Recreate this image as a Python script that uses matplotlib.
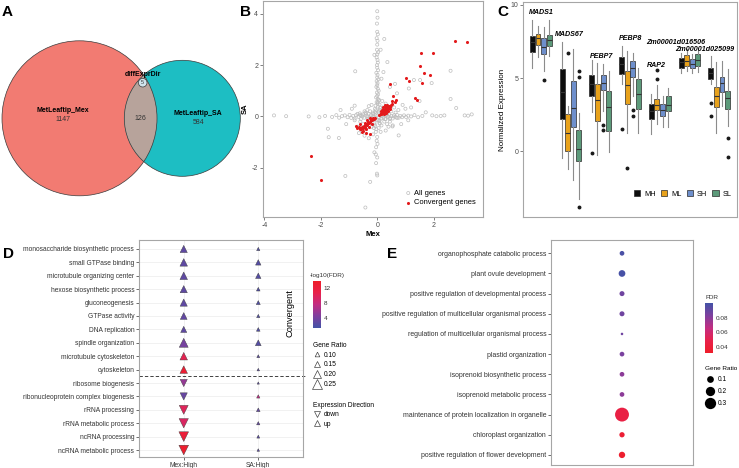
import matplotlib
matplotlib.use("Agg")
import matplotlib.pyplot as plt
import numpy as np
from matplotlib.patches import Circle, Patch
from matplotlib.lines import Line2D
from matplotlib.colors import LinearSegmentedColormap, Normalize
from matplotlib.cm import ScalarMappable

W, H = 739, 468
plt.rcParams["font.family"] = ["Liberation Sans", "DejaVu Sans"]
plt.rcParams["axes.unicode_minus"] = False

FRAME = "#A6A6A6"
TXT = "#333333"
TICK = "#4D4D4D"

# ---------------- data ----------------
# A: venn counts
VENN_MEX_ONLY = 1147
VENN_SHARED = 126
VENN_SA_ONLY = 584
VENN_DIFFDIR = 5

# B: scatter (Mex vs SA), all genes
GRAY_X = [0.00, 0.01, -0.01, 0.00, 0.02, -0.02, 0.01, 0.00, -0.01, 0.03, 0.00, -0.02, 0.01, 0.02,
          -0.01, 0.00, 0.03, -0.03, 0.01, 0.00, 0.04, -0.02, 0.01, 0.00, -0.03, 0.02, 0.05, -0.01,
          0.03, 0.00, -0.04, 0.02, 0.06, -0.02, 0.01, 0.08, -0.06, 0.03, 0.10, -0.08,
          0.25, 0.36, 0.22, 0.15, 0.12, -0.10, -0.78,
          0.00, -0.02, 0.01, -0.04, -0.10, -0.05, 0.00, -0.04, -0.01, 0.00, -0.25, -0.42, -1.13,
          -3.66, -3.23, -2.43, -2.05, -1.85, -1.60, -1.45, -1.35, -1.25, -1.15, -1.05, -0.98, -0.92,
          -0.85, -0.80, -0.75, -0.70, -0.66, -0.62, -0.58, -0.55, -0.50, -0.46, -0.42, -0.38, -0.34,
          -0.30, -0.26, -0.22, -0.18, -0.14, -0.10, -0.06,
          0.06, 0.10, 0.14, 0.18, 0.22, 0.26, 0.30, 0.34, 0.38, 0.42, 0.46, 0.50, 0.55, 0.60, 0.65,
          0.70, 0.76, 0.82, 0.88, 0.95, 1.02, 1.10, 1.20, 1.32, 1.45, 1.60, 1.72, 1.95, 2.10, 2.25,
          2.38, 3.10, 3.22, 3.35, 2.80, 2.60, 2.60,
          -0.50, -0.40, -0.30, -0.20, -0.60, -0.70, -0.35, -0.25, -0.15, -0.10, 0.00, 0.05, 0.10,
          0.20, 0.30, 0.40, 0.50, 0.60, 0.25, 0.35, 0.15, 0.05, -0.05, -0.15, 0.45, 0.55, 0.65,
          0.75, -0.80, -0.55, -0.45, -0.30, 0.12, 0.30,
          -1.75, -1.72, -1.36, -0.80, 0.54, 0.76, 0.63, 1.12, 1.30, 1.52, 1.93, 0.90, 1.00, 1.20,
          1.50, 0.85, 1.10, -1.10, -1.30, -0.90, 0.70, 0.45,
          -0.20, 0.18, -0.12, 0.08, -0.30, 0.35, 0.28, -0.45, 0.40, -0.65,
          -0.05, 0.04, -0.08, 0.07, -0.15, 0.15, -0.22, 0.24, -0.40, 0.45, -0.60, 0.70,
          0.05, -0.05, 0.09, -0.09, 0.02, -0.03, 0.06, -0.07, -0.52, 0.58, -0.33, 0.38]
GRAY_Y = [4.10, 3.85, 3.62, 3.30, 3.20, 3.05, 2.95, 2.80, 2.60, 2.50, 2.42, 2.30, 2.20, 2.10,
          2.00, 1.90, 1.80, 1.70, 1.62, 1.52, 1.45, 1.38, 1.30, 1.22, 1.15, 1.08, 1.00, 0.93,
          0.86, 0.80, 0.74, 0.68, 0.62, 0.56, 0.50, 0.46, 0.42, 0.38, 0.34, 0.30,
          3.02, 2.12, 1.73, 1.47, 2.60, 2.40, 1.76,
          -0.80, -0.95, -1.07, -1.20, -1.40, -1.48, -1.60, -1.82, -2.23, -2.30, -2.55, -3.55, -2.32,
          0.04, 0.01, 0.00, -0.03, 0.02, -0.02, 0.05, -0.05, 0.01, 0.04, -0.03, 0.06, -0.06,
          0.02, -0.08, 0.05, 0.10, -0.02, 0.12, -0.10, 0.04, 0.08, -0.05, 0.15, 0.02, -0.12,
          0.10, -0.04, 0.06, -0.08, 0.03, -0.02, 0.05,
          -0.04, 0.05, -0.08, 0.02, -0.05, 0.07, -0.10, 0.04, -0.03, 0.08, -0.06, 0.02, -0.08, 0.05, -0.02,
          0.06, -0.05, 0.02, -0.03, 0.04, -0.02, 0.03, 0.00, 0.05, -0.03, 0.02, 0.16, 0.04, 0.01, 0.02,
          0.04, 0.04, 0.03, 0.08, 0.33, 0.68, 1.78,
          -0.30, -0.50, -0.20, -0.40, -0.20, -0.40, 0.25, 0.20, 0.15, -0.25, -0.15, 0.15, 0.25,
          0.35, 0.50, 0.30, 0.20, 0.35, -0.20, -0.30, -0.35, -0.45, -0.60, -0.70, -0.20, -0.35, 0.15,
          0.25, -0.15, -0.55, -0.75, -0.85, -0.60, -0.55,
          -0.48, -0.81, -0.84, 0.42, -0.39, -0.74, 1.27, 1.09, 1.42, 1.42, 1.30, 0.45, 0.30, 0.35,
          0.60, -0.30, -0.15, -0.30, 0.25, 0.30, 0.90, 1.15,
          0.45, 0.60, -0.45, -0.25, 0.40, 0.10, -0.10, 0.20, -0.40, -0.65,
          0.12, -0.14, 0.18, -0.18, 0.10, -0.08, -0.12, 0.09, 0.11, -0.10, 0.05, -0.06,
          0.20, 0.24, -0.28, -0.32, 0.55, -0.50, 0.65, -0.38, 0.00, 0.00, 0.00, 0.00]

# B: convergent genes
RED_X = [0.08, 0.12, 0.15, 0.18, 0.20, 0.22, 0.25, 0.27, 0.30, 0.32, 0.35, 0.37, 0.40, 0.42, 0.45,
         0.48, 0.14, 0.18, 0.22, 0.26, 0.30, 0.34, 0.12, 0.24, 0.30, 0.38, 0.44, 0.52, 0.20, 0.28,
         -0.08, -0.12, -0.15, -0.18, -0.22, -0.25, -0.28, -0.32, -0.35, -0.38, -0.42, -0.45, -0.48,
         -0.52, -0.55, -0.58, -0.62, -0.65, -0.70, -0.75, -0.20, -0.30, -0.40, -0.50, -0.35, -0.25,
         -0.45, -0.60, -0.55, -0.40, -0.27,
         2.76, 3.17, 1.56, 1.99, 1.50, 1.66, 1.88, 1.03, 1.13, 1.59, 0.47, 0.57, 0.54, 0.67, 0.62,
         1.35, 1.42, -2.34, -1.99]
RED_Y = [0.05, 0.10, 0.08, 0.15, 0.12, 0.20, 0.18, 0.25, 0.22, 0.30, 0.28, 0.35, 0.32, 0.40, 0.38,
         0.45, 0.20, 0.25, 0.30, 0.35, 0.40, 0.45, 0.15, 0.10, 0.15, 0.22, 0.28, 0.50, 0.35, 0.45,
         -0.05, -0.10, -0.08, -0.15, -0.12, -0.20, -0.25, -0.22, -0.30, -0.35, -0.32, -0.40, -0.38,
         -0.45, -0.42, -0.50, -0.48, -0.40, -0.45, -0.38, -0.30, -0.40, -0.50, -0.55, -0.15, -0.05,
         -0.25, -0.30, -0.60, -0.65, -0.67,
         2.95, 2.91, 2.47, 2.46, 1.98, 1.68, 1.60, 1.50, 1.37, 1.32, 1.27, 0.79, 0.62, 0.65, 0.55,
         0.73, 0.66, -1.54, -2.46]

# C: boxplot summaries per group (one value per gene)
C_GENES = ["MADS1", "MADS67", "PEBP7", "PEBP8", "RAP2", "Zm00001d016506", "Zm00001d025099"]
C_GROUPS = ["MH", "ML", "SH", "SL"]
C_COLORS = ["#0D0D0D", "#E8A21C", "#6E8FCC", "#5C9A7A"]
MH_LO = [5.67, -0.44, 2.67, 4.60, 1.16, 5.33, 4.57]
MH_Q1 = [6.80, 2.19, 3.76, 5.25, 2.21, 5.67, 4.91]
MH_MED = [7.44, 4.03, 4.56, 5.94, 2.77, 6.07, 5.37]
MH_Q3 = [7.86, 5.60, 5.18, 6.41, 3.23, 6.34, 5.72]
MH_HI = [8.94, 7.49, 6.24, 7.21, 3.88, 6.69, 6.53]
MH_OUT = [[], [], [-0.12], [1.5], [], [], [3.30, 2.42]]
ML_LO = [6.47, -1.20, -0.28, 1.24, 1.87, 5.48, 1.22]
ML_Q1 = [7.26, 0.02, 2.03, 3.25, 2.79, 5.83, 3.00]
ML_MED = [7.72, 1.22, 3.53, 4.55, 3.14, 6.18, 3.76]
ML_Q3 = [8.04, 2.53, 4.61, 5.50, 3.60, 6.57, 4.41]
ML_HI = [8.55, 3.06, 6.06, 6.85, 4.50, 6.98, 6.11]
ML_OUT = [[], [6.68], [], [-1.18], [5.56, 4.91], [], []]
SH_LO = [5.48, -2.00, 2.72, 3.76, 1.68, 5.37, 3.07]
SH_Q1 = [6.64, 1.64, 4.17, 5.10, 2.42, 5.67, 4.03]
SH_MED = [7.14, 2.95, 4.68, 5.67, 2.83, 5.99, 4.68]
SH_Q3 = [7.72, 4.79, 5.18, 6.18, 3.23, 6.30, 5.10]
SH_HI = [8.48, 7.00, 5.94, 6.71, 3.76, 6.65, 6.18]
SH_OUT = [[4.84], [], [1.80, 1.45], [2.84, 2.42], [], [], []]
SL_LO = [6.52, -3.30, -0.05, 1.25, 1.64, 5.44, 1.72]
SL_Q1 = [7.21, -0.67, 1.41, 2.89, 2.76, 5.83, 2.87]
SL_MED = [7.63, 0.18, 3.02, 3.88, 3.18, 6.25, 3.64]
SL_Q3 = [7.95, 1.45, 4.10, 4.96, 3.76, 6.65, 4.10]
SL_HI = [8.94, 2.60, 5.48, 5.72, 4.33, 7.03, 5.65]
SL_OUT = [[], [5.48, 5.09, -3.85], [], [], [], [], [0.87, -0.37]]
C_LABEL_X = [1.03, 1.96, 3.05, 4.02, 4.89, 5.53, 6.50]
C_LABEL_Y = [9.47, 7.96, 6.48, 7.68, 5.83, 7.45, 6.94]

# D: GO enrichment (convergent)
D_TERMS = ["monosaccharide biosynthetic process", "small GTPase binding",
           "microtubule organizing center", "hexose biosynthetic process", "gluconeogenesis",
           "GTPase activity", "DNA replication", "spindle organization",
           "microtubule cytoskeleton", "cytoskeleton", "ribosome biogenesis",
           "ribonucleoprotein complex biogenesis", "rRNA processing", "rRNA metabolic process",
           "ncRNA processing", "ncRNA metabolic process"]
D_GROUPS = ["Mex:High", "SA:High"]
D_MEX_RATIO = [0.17, 0.18, 0.18, 0.17, 0.17, 0.16, 0.14, 0.22, 0.18, 0.18,
               0.17, 0.17, 0.22, 0.23, 0.24, 0.24]
D_MEX_LOGFDR = [2.8, 2.8, 2.8, 2.8, 2.8, 2.9, 2.8, 4.0, 10.5, 13.0,
                5.5, 3.2, 10.0, 9.5, 12.5, 13.5]
D_MEX_DIR = ["up"] * 10 + ["down"] * 6
D_SA_RATIO = [0.06, 0.12, 0.12, 0.07, 0.08, 0.06, 0.07, 0.13, 0.05, 0.04,
              0.03, 0.06, 0.07, 0.06, 0.05, 0.04]
D_SA_LOGFDR = [2.0, 2.2, 2.2, 2.0, 2.0, 2.0, 2.0, 2.2, 2.5, 2.5,
               2.5, 7.5, 3.0, 3.0, 2.5, 2.5]
D_SA_DIR = ["up"] * 16

# E: GO enrichment
E_TERMS = ["organophosphate catabolic process", "plant ovule development",
           "positive regulation of developmental process",
           "positive regulation of multicellular organismal process",
           "regulation of multicellular organismal process", "plastid organization",
           "isoprenoid biosynthetic process", "isoprenoid metabolic process",
           "maintenance of protein localization in organelle", "chloroplast organization",
           "positive regulation of flower development"]
E_RATIO = [0.043, 0.099, 0.05, 0.05, 0.005, 0.043, 0.043, 0.043, 0.46, 0.057, 0.087]
E_FDR = [0.099, 0.100, 0.088, 0.088, 0.088, 0.085, 0.080, 0.080, 0.045, 0.037, 0.034]

# ---------------- figure ----------------
fig = plt.figure(figsize=(W / 100, H / 100), dpi=100)


def px_axes(x0, y0, x1, y1):
    return fig.add_axes([x0 / W, 1 - y1 / H, (x1 - x0) / W, (y1 - y0) / H])


def frame(ax):
    for s in ax.spines.values():
        s.set_color(FRAME)
        s.set_linewidth(0.8)


cmap = LinearSegmentedColormap.from_list(
    "fdr", ["#4452A6", "#7F3F9E", "#C42C80", "#E8214A", "#EE1D28"])

# ---- A: venn ----
axA = px_axes(0, 0, 245, 240)
axA.set_xlim(0, 245)
axA.set_ylim(240, 0)
axA.axis("off")
red = Circle((79.5, 118.3), 77.5, fc="#F27B72", ec="none")
teal = Circle((182.3, 118.3), 58, fc="#1DBEC3", ec="none")
axA.add_patch(red)
axA.add_patch(teal)
lens = Circle((182.3, 118.3), 58, fc="#B7A39B", ec="none")
axA.add_patch(lens)
lens.set_clip_path(red)
axA.add_patch(Circle((79.5, 118.3), 77.5, fc="none", ec="#3a3a3a", lw=0.5))
axA.add_patch(Circle((182.3, 118.3), 58, fc="none", ec="#3a3a3a", lw=0.5))
axA.add_patch(Circle((142.7, 82.7), 4.3, fc="#CFE4EC", ec="#3a3a3a", lw=0.5))
axA.text(63.3, 111, "MetLeaftip_Mex", fontsize=5, fontweight="bold", ha="center", va="center")
axA.text(63.3, 119.5, str(VENN_MEX_ONLY), fontsize=5, ha="center", va="center", color=TXT)
axA.text(140.7, 118.3, str(VENN_SHARED), fontsize=5, ha="center", va="center", color=TXT)
axA.text(198.3, 113.3, "MetLeaftip_SA", fontsize=5, fontweight="bold", ha="center", va="center")
axA.text(198.3, 122.7, str(VENN_SA_ONLY), fontsize=5, ha="center", va="center", color=TXT)
axA.text(142.7, 74, "diffExprDir", fontsize=5, fontweight="bold", ha="center", va="center")
axA.text(142.7, 83, str(VENN_DIFFDIR), fontsize=4, ha="center", va="center", color=TXT)

# ---- B: scatter ----
axB = px_axes(263, 1, 483, 217)
axB.scatter(GRAY_X, GRAY_Y, s=5, facecolors="none", edgecolors="#BDBDBD",
            linewidths=0.5, label="All genes", zorder=2)
axB.scatter(RED_X, RED_Y, s=5, c="#E31A1C", linewidths=0, label="Convergent genes", zorder=3)
axB.set_xlim(-4.05, 3.75)
axB.set_ylim(-3.92, 4.5)
axB.set_xticks([-4, -2, 0, 2])
axB.set_yticks([-2, 0, 2, 4])
axB.tick_params(length=2, width=0.5, color=TICK, labelsize=5, labelcolor=TICK, pad=1.5)
axB.set_xlabel("Mex", fontsize=5.5, fontweight="bold", labelpad=1.5)
axB.set_ylabel("SA", fontsize=5.5, fontweight="bold", labelpad=2)
frame(axB)
axB.legend(loc="upper left", bbox_to_anchor=(400 / W, 1 - 186 / H), bbox_transform=fig.transFigure,
           frameon=False, fontsize=5.4, handletextpad=0.2, labelspacing=0.3, borderpad=0,
           handlelength=1.2, markerscale=1.0)

# ---- C: boxplots ----
axC = px_axes(523, 2, 737, 217)
group_arrays = [
    (MH_LO, MH_Q1, MH_MED, MH_Q3, MH_HI, MH_OUT),
    (ML_LO, ML_Q1, ML_MED, ML_Q3, ML_HI, ML_OUT),
    (SH_LO, SH_Q1, SH_MED, SH_Q3, SH_HI, SH_OUT),
    (SL_LO, SL_Q1, SL_MED, SL_Q3, SL_HI, SL_OUT),
]
for j, (lo, q1, med, q3, hi, out) in enumerate(group_arrays):
    stats = []
    for i in range(len(C_GENES)):
        stats.append(dict(whislo=lo[i], q1=q1[i], med=med[i], q3=q3[i], whishi=hi[i],
                          fliers=out[i]))
    pos = np.arange(1, len(C_GENES) + 1) + (j - 1.5) * 0.1875
    axC.bxp(stats, positions=pos, widths=0.165, patch_artist=True, showcaps=False,
            boxprops=dict(facecolor=C_COLORS[j], edgecolor="#2a2a2a", linewidth=0.5),
            medianprops=dict(color="#333333", linewidth=0.8),
            whiskerprops=dict(color="#8C8C8C", linewidth=0.8),
            flierprops=dict(marker="o", markersize=1.8, markerfacecolor="#1a1a1a",
                            markeredgecolor="#1a1a1a"))
for name, x, y in zip(C_GENES, C_LABEL_X, C_LABEL_Y):
    axC.text(x, y, name, fontsize=5.1, fontweight="bold", fontstyle="italic",
             ha="center", va="center")
axC.set_xlim(0.4, 7.6)
axC.set_ylim(-4.5, 10.2)
axC.set_xticks([])
axC.set_yticks([0, 5, 10])
axC.tick_params(length=2, width=0.5, color=TICK, labelsize=5, labelcolor=TICK, pad=1.5)
axC.set_ylabel("Normalized Expression", fontsize=5.8, labelpad=3)
frame(axC)
c_handles = [Patch(facecolor=c, edgecolor="#2a2a2a", linewidth=0.5) for c in C_COLORS]
axC.legend(c_handles, C_GROUPS, loc="upper left", bbox_to_anchor=(630 / W, 1 - 186.5 / H),
           bbox_transform=fig.transFigure, ncol=4, frameon=False, fontsize=5.3,
           handlelength=0.9, handleheight=0.8, handletextpad=0.5, columnspacing=0.7,
           borderpad=0)


def tri_size(r):
    px = max(4.7 + (r - 0.10) * 35.3, 2.2)
    return (px * 0.72) ** 2


def dot_size(r):
    return (4.5 + 410 * r) * 0.72 ** 2


# ---- D: triangle dot plot ----
axD = px_axes(139, 240, 303, 457)
normD = Normalize(1.3, 14.1)
rows = np.arange(len(D_TERMS))
for xi, ratios, logf, dirs in [(1, D_MEX_RATIO, D_MEX_LOGFDR, D_MEX_DIR),
                               (2, D_SA_RATIO, D_SA_LOGFDR, D_SA_DIR)]:
    for d, mk in [("up", "^"), ("down", "v")]:
        idx = [k for k in rows if dirs[k] == d]
        if not idx:
            continue
        axD.scatter([xi] * len(idx), idx, marker=mk,
                    s=[tri_size(ratios[k]) for k in idx],
                    c=[cmap(normD(logf[k])) for k in idx],
                    edgecolors="#3a3a3a", linewidths=0.3, zorder=3)
axD.set_xlim(0.4, 2.6)
axD.set_ylim(15.52, -0.67)
axD.set_yticks(rows)
axD.set_yticklabels(D_TERMS)
axD.set_xticks([1, 2])
axD.set_xticklabels(D_GROUPS)
axD.grid(color="#EBEBEB", linewidth=0.5)
axD.set_axisbelow(True)
axD.tick_params(length=2, width=0.5, color=TXT, labelsize=4.75, labelcolor=TXT, pad=1.5)
frame(axD)
axD.axhline(9.5, xmin=0, xmax=1.02, clip_on=False, color="#222222", lw=0.6, ls=(0, (4, 2.5)))
axD.text(0.92, 0.664, "Convergent", transform=axD.transAxes, rotation=90, fontsize=6.7,
         ha="center", va="center")

caxD = px_axes(313, 280.7, 321, 327.7)
cbD = fig.colorbar(ScalarMappable(norm=normD, cmap=cmap), cax=caxD, ticks=[4, 8, 12])
cbD.outline.set_visible(False)
caxD.tick_params(length=0, labelsize=4.6, pad=2, labelcolor=TXT)
caxD.text(-0.35, 1.06, "-log10(FDR)", transform=caxD.transAxes, fontsize=4.6, ha="left",
          va="bottom", color=TXT)

ratio_breaks = [0.10, 0.15, 0.20, 0.25]
gr_handles = [Line2D([], [], ls="none", marker="^", markersize=np.sqrt(tri_size(r)),
                     markerfacecolor="white", markeredgecolor="#444444", markeredgewidth=0.5)
              for r in ratio_breaks]
fig.legend(gr_handles, ["%.2f" % r for r in ratio_breaks], title="Gene Ratio",
           loc="upper left", bbox_to_anchor=(310 / W, 1 - 338.5 / H), frameon=False,
           fontsize=4.8, title_fontsize=4.8, alignment="left", labelspacing=0.42,
           handletextpad=0.3, handlelength=1.2, borderpad=0)
dir_handles = [Line2D([], [], ls="none", marker=m, markersize=np.sqrt(tri_size(0.15)),
                      markerfacecolor="white", markeredgecolor="#444444", markeredgewidth=0.5)
               for m in ["v", "^"]]
fig.legend(dir_handles, ["down", "up"], title="Expression Direction",
           loc="upper left", bbox_to_anchor=(310 / W, 1 - 398.5 / H), frameon=False,
           fontsize=4.8, title_fontsize=4.8, alignment="left", labelspacing=0.35,
           handletextpad=0.3, handlelength=1.2, borderpad=0)

# ---- E: dot plot ----
axE = px_axes(551, 240, 693, 465)
normE = Normalize(0.0307, 0.101)
cmapE = cmap.reversed()
erows = np.arange(len(E_TERMS))
axE.scatter([1] * len(E_TERMS), erows, s=[dot_size(r) for r in E_RATIO],
            c=[cmapE(normE(f)) for f in E_FDR], linewidths=0, zorder=3)
axE.set_xlim(0.4, 1.6)
axE.set_ylim(10.5, -0.66)
axE.set_yticks(erows)
axE.set_yticklabels(E_TERMS)
axE.set_xticks([])
axE.tick_params(length=2, width=0.5, color=TXT, labelsize=4.95, labelcolor=TXT, pad=1.5)
frame(axE)

caxE = px_axes(705, 303.3, 713.3, 353.3)
cbE = fig.colorbar(ScalarMappable(norm=normE, cmap=cmapE), cax=caxE, ticks=[0.04, 0.06, 0.08])
cbE.outline.set_visible(False)
caxE.set_yticklabels(["0.04", "0.06", "0.08"])
caxE.tick_params(length=0, labelsize=4.6, pad=2, labelcolor=TXT)
caxE.text(0, 1.06, "FDR", transform=caxE.transAxes, fontsize=4.6, ha="left", va="bottom",
          color=TXT)

e_breaks = [0.1, 0.2, 0.3]
e_handles = [Line2D([], [], ls="none", marker="o", markersize=np.sqrt(dot_size(r)),
                    markerfacecolor="black", markeredgecolor="black", markeredgewidth=0)
             for r in e_breaks]
fig.legend(e_handles, ["0.1", "0.2", "0.3"], title="Gene Ratio", loc="upper left",
           bbox_to_anchor=(702 / W, 1 - 362.5 / H), frameon=False, fontsize=4.8,
           title_fontsize=4.6, alignment="left", labelspacing=0.75, handletextpad=0.4,
           handlelength=1.4, borderpad=0)

# panel letters
for letter, x, y in [("A", 2, 11.5), ("B", 240, 11.5), ("C", 497, 11.5), ("D", 3, 253.5),
                     ("E", 386.5, 253.5)]:
    fig.text(x / W, 1 - y / H, letter, fontsize=11, fontweight="bold", ha="left", va="center")

fig.savefig("out.png", dpi=100)
